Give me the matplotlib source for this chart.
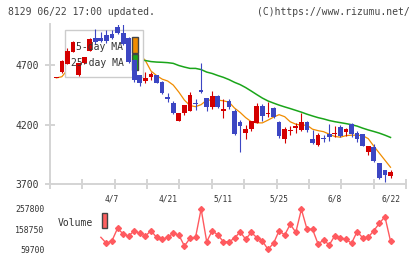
import numpy as np
import matplotlib.pyplot as plt
from matplotlib.patches import Rectangle

# daily candles, 61 trading days ending 6/22
opens = [4590, 4639, 4708, 4812, 4616, 4719, 4820, 4924, 4929, 4952,
         4960, 5017, 4971, 4927, 4742, 4616, 4566, 4602, 4616, 4560,
         4431, 4383, 4232, 4294, 4316, 4383, 4490, 4420, 4345, 4440,
         4316, 4398, 4314, 4224, 4126, 4162, 4215, 4356, 4288, 4341,
         4224, 4084, 4146, 4168, 4154, 4224, 4084, 4028, 4084, 4120,
         4118, 4177, 4140, 4204, 4131, 4120, 3972, 4014, 3879, 3818, 3768]
closes = [4595, 4734, 4818, 4896, 4714, 4765, 4918, 4896, 4902, 4902,
          4924, 4971, 4876, 4729, 4574, 4551, 4588, 4622, 4551, 4467,
          4412, 4294, 4294, 4364, 4448, 4370, 4476, 4350, 4440, 4345,
          4328, 4345, 4120, 4190, 4162, 4230, 4356, 4272, 4299, 4266,
          4104, 4160, 4154, 4188, 4224, 4154, 4047, 4112, 4076, 4098,
          4126, 4104, 4160, 4118, 4076, 4022, 4020, 3894, 3753, 3782, 3804]
highs = [4595, 4740, 4840, 4904, 4718, 4770, 4925, 5002, 4980, 4994,
         4994, 5044, 5042, 4935, 4750, 4620, 4644, 4644, 4620, 4565,
         4462, 4398, 4296, 4366, 4471, 4412, 4714, 4425, 4482, 4445,
         4412, 4412, 4328, 4238, 4196, 4232, 4383, 4372, 4392, 4350,
         4228, 4177, 4188, 4210, 4294, 4232, 4154, 4126, 4112, 4204,
         4188, 4196, 4173, 4210, 4148, 4125, 4022, 4036, 3882, 3820, 3824]
lows = [4590, 4630, 4705, 4808, 4612, 4712, 4815, 4874, 4891, 4885,
        4915, 4960, 4870, 4720, 4560, 4526, 4546, 4574, 4546, 4454,
        4392, 4290, 4230, 4280, 4312, 4322, 4462, 4314, 4328, 4340,
        4259, 4328, 4115, 3972, 4084, 4146, 4212, 4232, 4266, 4257,
        4089, 4047, 4112, 4126, 4150, 4140, 4036, 4020, 4056, 4064,
        4098, 4098, 4104, 4093, 4056, 4018, 3944, 3888, 3745, 3720, 3753]

ma5 = [4592, 4602, 4660, 4740, 4760, 4790, 4820, 4840, 4850, 4880,
       4910, 4920, 4915, 4880, 4840, 4790, 4737, 4650, 4612, 4582,
       4566, 4532, 4473, 4406, 4360, 4351, 4368, 4406, 4406, 4406,
       4400, 4389, 4339, 4303, 4259, 4225, 4215, 4215, 4238, 4263,
       4284, 4267, 4224, 4204, 4196, 4196, 4162, 4150, 4141, 4120,
       4101, 4095, 4108, 4112, 4112, 4108, 4083, 4020, 3961, 3902, 3843]
ma25 = [np.nan] * 15 + [
        4742, 4738, 4729, 4725, 4723, 4720, 4714, 4696, 4683, 4672,
        4672, 4662, 4641, 4629, 4612, 4597, 4578, 4555, 4536, 4511,
        4482, 4452, 4423, 4399, 4381, 4364, 4349, 4335, 4320, 4305,
        4288, 4273, 4259, 4248, 4235, 4225, 4217, 4209, 4200, 4188,
        4171, 4156, 4143, 4129, 4112, 4093]

# volume shown from day 8 on
vol_start = 8
volume = [118690, 89200, 101980, 162940, 134910, 125080, 151140, 138360, 125080, 151140,
          118690, 108860, 118690, 138360, 130000, 75920, 113780, 118690, 257800, 97060,
          151140, 130000, 97060, 97060, 113780, 146220, 108860, 143270, 116720, 100500,
          59700, 89200, 151140, 130000, 182600, 143270, 256300, 159500, 158020, 85750,
          105420, 80840, 126560, 113780, 110340, 89200, 146220, 116720, 118690, 151140,
          187520, 219960, 100500]

date_idx = [10, 20, 30, 40, 50, 60]
date_labels = ['4/7', '4/21', '5/11', '5/25', '6/8', '6/22']
price_ticks = [3700, 4200, 4700]
vol_ticks = [59700, 158750, 257800]

W, H = 420, 259
fig = plt.figure(figsize=(W / 100, H / 100), dpi=100)
mono = 'DejaVu Sans Mono'
txt_col = '#333333'
grid_col = '#d4d4d4'


def fx(px):
    return px / W


def fy(py):
    return 1 - py / H


# candle 0 sits at x=56.3px, 5.57px per day
x0, step = 56.3, 5.57
xl = ((50 - x0) / step, (406 - x0) / step)

ax = fig.add_axes([fx(50), fy(184.3), fx(406) - fx(50), fy(24.5) - fy(184.3)])
days = np.arange(len(closes))
o, c = np.array(opens), np.array(closes)
up = c > o
cols = np.where(up, '#d40000', '#3c46c3')
bottoms = np.minimum(o, c)
heights = np.maximum(np.abs(c - o), 9)

ax.plot(days, ma5, color='#f08c00', lw=0.9, zorder=1)
ax.plot(days, ma25, color='#1aa51a', lw=1.1, zorder=1)

# legend box sits above the MA lines but under the candles
ax.add_patch(Rectangle((fx(65), fy(77)), fx(143) - fx(65), fy(30) - fy(77),
                       transform=fig.transFigure, facecolor='white',
                       edgecolor='#cccccc', lw=1, zorder=2, clip_on=False))
ax.add_patch(Rectangle((fx(131.5), fy(53.3)), fx(137.5) - fx(131.5), fy(37.3) - fy(53.3),
                       transform=fig.transFigure, facecolor='#f08c00',
                       edgecolor='#444444', lw=1, zorder=2.5, clip_on=False))
ax.add_patch(Rectangle((fx(131.5), fy(70)), fx(137.5) - fx(131.5), fy(54.3) - fy(70),
                       transform=fig.transFigure, facecolor='#1aa51a',
                       edgecolor='#444444', lw=1, zorder=2.5, clip_on=False))

ax.vlines(days, lows, highs, colors=cols, lw=0.8, zorder=3)
ax.bar(days, heights, bottom=bottoms, width=0.85, color=cols, linewidth=0, zorder=3)

ax.text(fx(123.5), fy(46.7), '5-day MA', transform=fig.transFigure, ha='right',
        va='center', fontsize=7, family=mono, color=txt_col, zorder=5)
ax.text(fx(123.5), fy(63.3), '25-day MA', transform=fig.transFigure, ha='right',
        va='center', fontsize=7, family=mono, color=txt_col, zorder=5)

ax.set_xlim(*xl)
ax.set_ylim(3700, 5040)
for s in ['top', 'right']:
    ax.spines[s].set_visible(False)
for s in ['left', 'bottom']:
    ax.spines[s].set_color(grid_col)
    ax.spines[s].set_linewidth(1.4)
ax.set_yticks(price_ticks)
ax.set_yticklabels([str(v) for v in price_ticks], family=mono, fontsize=7, color=txt_col)
ax.tick_params(axis='y', direction='inout', length=6.5, width=1.4, color=grid_col, pad=4.5)
ax.set_xticks(np.linspace(xl[0], xl[1], 12))
ax.set_xticklabels([])
ax.tick_params(axis='x', which='major', direction='inout', length=6.5, width=1.4, color=grid_col)
ax.set_xticks(date_idx, labels=date_labels, minor=True)
ax.tick_params(axis='x', which='minor', length=0, pad=7, labelsize=5.7, labelcolor=txt_col)
for t in ax.get_xticklabels(minor=True):
    t.set_family(mono)

# volume panel
vax = fig.add_axes([fx(98), fy(249.3), fx(406) - fx(98), fy(209) - fy(249.3)])
vdays = days[vol_start:]
vax.plot(vdays, volume, color='#ff5a5f', lw=1, marker='D', ms=3.0,
         markevery=range(1, len(volume)), clip_on=False)
vax.set_xlim((98 - x0) / step, xl[1])
vax.set_ylim(vol_ticks[0], vol_ticks[-1])
for s in vax.spines.values():
    s.set_visible(False)
vax.set_xticks([])
vax.set_yticks(vol_ticks)
vax.set_yticklabels([str(v) for v in vol_ticks], family=mono, fontsize=5.9, color=txt_col)
vax.tick_params(axis='y', length=0, pad=38.5)

fig.text(fx(58), fy(222.5), 'Volume', fontsize=7, family=mono, color=txt_col, va='center')
fig.patches.append(Rectangle((fx(101.7), fy(228.3)), fx(107.3) - fx(101.7),
                             fy(212.7) - fy(228.3), transform=fig.transFigure,
                             facecolor='#ff6060', edgecolor='#444444', lw=1))

fig.text(fx(8), fy(12), '8129 06/22 17:00 updated.', fontsize=7, family=mono,
         color='#444444', va='center')
fig.text(fx(410), fy(12), '(C)https://www.rizumu.net/', fontsize=7, family=mono,
         color='#444444', va='center', ha='right')

fig.savefig('out.png', dpi=100)
